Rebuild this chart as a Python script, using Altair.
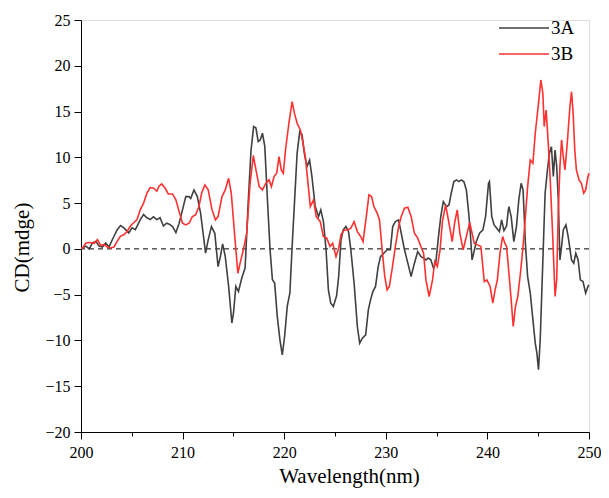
import altair as alt
import pandas as pd

# ---- data ----
wl_a = [200.0, 200.16, 200.49, 200.81, 201.13, 201.46, 201.78, 202.11, 202.43, 202.76,
        203.08, 203.57, 203.89, 204.22, 204.70, 205.03, 205.35, 205.84, 206.16, 206.49,
        206.81, 207.13, 207.46, 207.78, 208.11, 208.43, 208.69, 209.01, 209.34, 209.66,
        209.99, 210.31, 210.64, 210.80, 211.12, 211.45, 211.77, 212.10, 212.26, 212.52,
        212.84, 213.17, 213.49, 213.72, 213.94, 214.20, 214.53, 214.85, 215.01, 215.24,
        215.50, 215.82, 216.15, 216.47, 216.73, 216.99, 217.22, 217.44, 217.64, 217.86,
        218.09, 218.35, 218.61, 218.84, 219.06, 219.32, 219.58, 219.81, 220.04, 220.30,
        220.56, 220.78, 221.01, 221.27, 221.53, 221.76, 221.98, 222.24, 222.50, 222.73,
        223.05, 223.38, 223.60, 223.86, 224.12, 224.35, 224.58, 224.84, 225.16, 225.36,
        225.59, 225.81, 226.07, 226.33, 226.56, 226.88, 227.20, 227.43, 227.69, 228.02,
        228.28, 228.50, 228.73, 228.99, 229.25, 229.48, 229.80, 230.13, 230.45, 230.68,
        230.94, 231.26, 231.52, 231.84, 232.17, 232.49, 232.82, 233.14, 233.47, 233.72,
        233.95, 234.17, 234.43, 234.69, 234.92, 235.15, 235.41, 235.66, 235.99, 236.22,
        236.44, 236.70, 236.96, 237.19, 237.42, 237.68, 237.93, 238.16, 238.32, 238.49,
        238.65, 238.91, 239.23, 239.56, 239.82, 240.11, 240.20, 240.43, 240.66, 240.92,
        241.18, 241.40, 241.63, 241.89, 242.05, 242.12, 242.34, 242.60, 242.86, 243.09,
        243.32, 243.51, 243.74, 243.96, 244.22, 244.48, 244.71, 244.87, 245.03, 245.20,
        245.46, 245.68, 245.91, 246.10, 246.30, 246.49, 246.66, 246.82, 246.98, 247.14,
        247.30, 247.47, 247.73, 247.95, 248.28, 248.50, 248.70, 248.93, 249.15, 249.41,
        249.67, 249.90, 250.0]
cd_a = [0.1, 0.1, 0.3, 0.0, 0.65, 0.8, 0.3, 0.2, 0.65, 0.2,
        1.0, 2.1, 2.55, 2.3, 1.75, 2.3, 2.1, 3.2, 3.75, 3.4,
        3.2, 3.5, 3.2, 3.4, 2.5, 2.8, 2.7, 2.43, 1.78, 2.8,
        4.26, 5.71, 5.71, 5.5, 6.44, 5.71, 3.9, 0.98, -0.47, 0.98,
        2.43, 1.7, -1.93, -0.84, 0.55, -0.84, -4.1, -8.1, -7.0, -4.1,
        -4.66, -3.2, -2.1, 5.35, 10.7, 13.36, 13.2, 11.72, 11.9, 12.63,
        11.2, 5.35, -0.11, -3.37, -3.74, -7.4, -9.93, -11.57, -9.57, -6.28,
        -4.8, 0.25, 5.0, 10.44, 12.8, 12.45, 10.44, 9.0, 9.7, 7.9,
        4.62, 3.53, 4.26, 3.0, -0.1, -4.47, -5.93, -6.3, -5.1, -3.02,
        0.98, 2.07, 2.44, 1.89, -0.1, -3.75, -8.48, -10.3, -9.75, -9.39,
        -6.66, -5.57, -4.66, -4.1, -1.93, -0.84, -0.47, -0.1, -0.1, 2.44,
        2.98, 3.17, 1.71, -0.1, -1.56, -3.02, -1.56, -0.29, -0.84, -1.0,
        -1.2, -1.0, -1.2, -2.1, -1.56, 0.98, 3.53, 5.17, 4.62, 4.8,
        6.08, 7.35, 7.53, 7.35, 7.53, 7.35, 6.44, 3.9, 1.71, -1.2,
        -0.47, 0.8, 1.71, 2.07, 3.53, 7.17, 7.35, 3.53, 2.62, 2.26,
        1.89, 3.17, 2.0, 2.5, 4.2, 4.62, 3.53, 0.8, 2.44, 5.35,
        7.17, 6.44, 0.62, -3.02, -4.84, -7.75, -10.3, -11.39, -13.2, -9.93,
        -1.2, 6.08, 8.62, 10.44, 11.17, 7.9, 10.8, 8.98, 5.35, -1.2,
        0.26, 2.07, 2.62, 1.35, -1.2, -1.56, -0.47, -1.2, -3.38, -3.57,
        -4.84, -4.1, -3.93]

wl_b = [200.0, 200.16, 200.49, 200.81, 201.30, 201.62, 201.95, 202.27, 202.59, 202.92,
        203.24, 203.57, 203.89, 204.22, 204.54, 204.86, 205.19, 205.51, 205.84, 206.16,
        206.49, 206.81, 207.13, 207.46, 207.68, 207.94, 208.27, 208.59, 209.01, 209.34,
        209.66, 209.99, 210.31, 210.64, 210.96, 211.28, 211.61, 211.87, 212.19, 212.52,
        212.90, 213.23, 213.49, 213.88, 214.20, 214.53, 214.79, 215.11, 215.44, 215.66,
        215.98, 216.31, 216.63, 216.96, 217.22, 217.54, 217.86, 218.19, 218.51, 218.74,
        219.00, 219.26, 219.49, 219.71, 219.91, 220.13, 220.46, 220.78, 221.01, 221.27,
        221.59, 221.85, 222.08, 222.31, 222.57, 222.89, 223.15, 223.54, 223.86, 224.19,
        224.51, 224.77, 225.10, 225.36, 225.59, 225.91, 226.23, 226.56, 226.88, 227.20,
        227.53, 227.76, 228.08, 228.34, 228.60, 228.83, 229.15, 229.38, 229.64, 229.90,
        230.13, 230.35, 230.61, 230.94, 231.26, 231.52, 231.84, 232.17, 232.49, 232.82,
        233.14, 233.47, 233.72, 233.95, 234.27, 234.60, 234.82, 235.08, 235.34, 235.57,
        235.89, 236.22, 236.54, 236.77, 237.03, 237.29, 237.61, 237.93, 238.26, 238.49,
        238.71, 239.04, 239.36, 239.69, 239.95, 240.27, 240.53, 240.76, 240.98, 241.24,
        241.50, 241.73, 241.89, 242.12, 242.34, 242.54, 242.76, 242.99, 243.25, 243.51,
        243.74, 243.96, 244.22, 244.48, 244.71, 245.03, 245.26, 245.46, 245.59, 245.78,
        246.01, 246.17, 246.43, 246.66, 246.82, 246.98, 247.14, 247.30, 247.47, 247.63,
        247.86, 248.12, 248.28, 248.44, 248.60, 248.76, 249.02, 249.25, 249.48, 249.67,
        249.90, 250.0]
cd_b = [0.1, 0.1, 0.65, 0.7, 0.6, 1.0, 0.35, 0.5, 0.2, 0.1,
        0.2, 0.85, 1.4, 1.55, 1.9, 2.5, 2.85, 3.2, 4.3, 5.0,
        6.1, 6.7, 6.65, 6.3, 6.85, 7.1, 6.65, 6.0, 6.0, 5.35,
        4.07, 2.8, 2.62, 2.8, 3.53, 3.71, 4.62, 6.08, 6.99, 6.44,
        4.26, 3.17, 3.53, 5.71, 6.44, 7.71, 6.08, 1.71, -2.66, -1.56,
        -0.1, 1.71, 7.0, 10.2, 8.62, 6.8, 6.44, 7.17, 7.54, 6.8,
        7.9, 8.26, 10.08, 8.62, 8.26, 10.8, 13.72, 16.08, 14.8, 13.72,
        12.99, 11.54, 10.08, 7.54, 4.62, 5.35, 3.53, 3.0, 1.35, 1.17,
        0.26, 0.62, -0.84, 0.07, 1.53, 2.07, 2.07, 2.26, 2.98, 1.89,
        1.35, 0.8, 3.53, 5.9, 5.71, 4.62, 3.9, 3.17, -0.1, -3.02,
        -4.47, -4.1, -2.3, 0.26, 2.44, 3.53, 4.44, 4.55, 3.53, 1.71,
        1.17, 0.2, -0.47, -3.39, -5.2, -3.39, -1.38, -1.93, -0.1, 2.98,
        4.8, 2.8, 0.8, 2.8, 4.26, 1.71, -0.1, 1.35, 2.89, 1.71,
        0.62, 0.44, 0.26, -3.57, -3.39, -4.1, -5.93, -4.47, -3.39, -0.47,
        1.35, 0.6, 0.26, -2.66, -5.57, -8.48, -6.3, -5.2, -2.66, 0.26,
        3.53, 6.8, 9.7, 9.35, 12.63, 15.9, 18.45, 17.0, 13.36, 15.17,
        11.17, 7.9, 1.35, -5.2, -3.38, 4.26, 8.98, 11.9, 10.08, 8.62,
        11.54, 15.53, 17.17, 14.8, 10.8, 8.62, 7.53, 7.17, 6.08, 6.44,
        7.9, 8.26]

series_names = ["3A", "3B"]
series_colors = ["#404040", "#ff3030"]

x_ticks = [200 + 5 * i for i in range(11)]
y_ticks = [-20 + 2.5 * i for i in range(19)]

df = pd.concat([
    pd.DataFrame({"wl": wl_a, "cd": cd_a, "s": "3A", "o": range(len(wl_a))}),
    pd.DataFrame({"wl": wl_b, "cd": cd_b, "s": "3B", "o": range(len(wl_b))}),
])

FONT = "Liberation Serif"

x_axis = alt.Axis(
    values=x_ticks,
    labelExpr="datum.value % 10 === 0 ? datum.label : ''",
    tickSize={"condition": {"test": "datum.value % 10 === 0", "value": 7}, "value": 4},
    grid=False, labelFont=FONT, labelFontSize=16, labelColor="black",
    labelPadding=5, titleFont=FONT, titleFontSize=21, titleFontWeight="normal",
    titleColor="black", titlePadding=5, titleX=268, tickColor="black", domainColor="black",
    labelFlush=False,
)
y_axis = alt.Axis(
    values=y_ticks,
    labelExpr="datum.value % 5 === 0 ? datum.label : ''",
    tickSize={"condition": {"test": "datum.value % 5 === 0", "value": 7}, "value": 4},
    grid=False, labelFont=FONT, labelFontSize=16, labelColor="black",
    labelPadding=4, titleFont=FONT, titleFontSize=21, titleFontWeight="normal",
    titleColor="black", titlePadding=12, titleY=227, tickColor="black", domainColor="black",
    labelFlush=False,
)

lines = alt.Chart(df).mark_line(strokeWidth=1.6).encode(
    x=alt.X("wl:Q", title="Wavelength(nm)", scale=alt.Scale(domain=[200, 250], nice=False, zero=False), axis=x_axis),
    y=alt.Y("cd:Q", title="CD(mdge)", scale=alt.Scale(domain=[-20, 25], nice=False, zero=False), axis=y_axis),
    color=alt.Color("s:N", scale=alt.Scale(domain=series_names, range=series_colors),
                    legend=alt.Legend(title=None, orient="none", legendX=432, legendY=-3,
                                      symbolType="M-2.5,0H2.5", symbolSize=400,
                                      symbolStrokeWidth=1.6, symbolFillColor="transparent",
                                      labelFont=FONT, labelFontSize=19, labelColor="black",
                                      labelOffset=16, rowPadding=5, padding=0)),
    order="o:Q",
)

zero = alt.Chart(pd.DataFrame({"y": [0]})).mark_rule(color="black", strokeWidth=1, strokeDash=[5, 4]).encode(
    y="y:Q"
)

chart = alt.layer(zero, lines).properties(
    width=508, height=412,
    autosize=alt.AutoSizeParams(type="none"),
    padding={"left": 73, "top": 12, "right": 12, "bottom": 58},
).configure_view(
    stroke="black", strokeWidth=1.2
).configure(background="white")

chart.save("out.html", embed_options={"renderer": "svg", "actions": False})
